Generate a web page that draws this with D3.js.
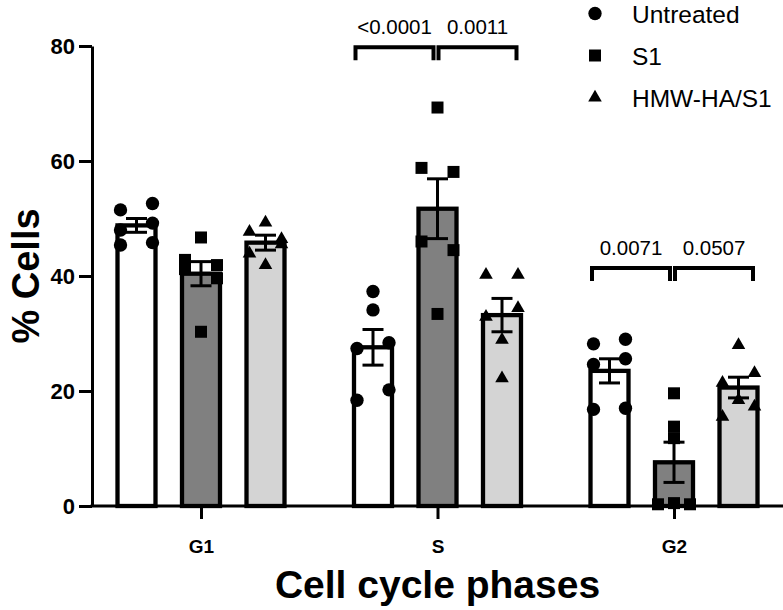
<!DOCTYPE html>
<html>
<head>
<meta charset="utf-8">
<script src="https://cdn.jsdelivr.net/npm/d3@7"></script>
<style>
  html, body { margin: 0; padding: 0; background: #ffffff; }
  svg { display: block; }
  text { font-family: "Liberation Sans", Arial, Helvetica, sans-serif; fill: #000; }
</style>
</head>
<body>
<script>
// ---------------- DATA ----------------
const phases = ["G1", "S", "G2"];
const seriesNames = ["Untreated", "S1", "HMW-HA/S1"];
const yTicks = [0, 20, 40, 60, 80];

// bar heights (mean %) per series, in phase order
const meanUntreated = [48.8, 27.6, 23.5];
const meanS1 = [40.4, 51.7, 7.6];
const meanHMW = [45.8, 33.2, 20.6];

// SEM per series, in phase order
const semUntreated = [1.2, 3.1, 2.1];
const semS1 = [2.1, 5.2, 3.5];
const semHMW = [1.3, 2.9, 1.8];

// individual replicates (6 per phase)
const ptsUntreatedG1 = [45.4, 45.8, 48.0, 49.2, 51.5, 52.6];
const ptsUntreatedS = [18.4, 20.2, 27.4, 28.4, 34.1, 37.3];
const ptsUntreatedG2 = [16.8, 17.0, 24.6, 25.6, 28.2, 29.0];
const ptsS1G1 = [30.3, 42.8, 41.9, 41.2, 39.6, 46.7];
const ptsS1S = [46.0, 44.5, 58.8, 58.1, 33.4, 69.3];
const ptsS1G2 = [0.3, 0.5, 0.3, 11.8, 13.8, 19.6];
const ptsHMWG1 = [47.7, 49.3, 46.4, 43.9, 41.9, 45.5];
const ptsHMWS = [40.2, 40.2, 32.9, 34.4, 28.9, 22.2];
const ptsHMWG2 = [28.0, 21.4, 23.1, 18.4, 15.5, 17.3];

// significance comparisons
const cmpPhase = ["S", "S", "G2", "G2"];
const cmpSide = ["left", "right", "left", "right"];
const cmpLabel = ["<0.0001", "0.0011", "0.0071", "0.0507"];
const cmpLevel = [79.8, 79.8, 41.4, 41.4];

// ---------------- BUILD ----------------
const series = [
  { name: seriesNames[0], mean: meanUntreated, sem: semUntreated, pts: [ptsUntreatedG1, ptsUntreatedS, ptsUntreatedG2], fill: "#ffffff", shape: d3.symbolCircle, size: 140 },
  { name: seriesNames[1], mean: meanS1, sem: semS1, pts: [ptsS1G1, ptsS1S, ptsS1G2], fill: "#808080", shape: d3.symbolSquare, size: 144 },
  { name: seriesNames[2], mean: meanHMW, sem: semHMW, pts: [ptsHMWG1, ptsHMWS, ptsHMWG2], fill: "#d4d4d4", shape: d3.symbolTriangle, size: 80 }
];

const W = 783, H = 610;
const svg = d3.select("body").append("svg").attr("width", W).attr("height", H);

const y = d3.scaleLinear().domain([0, 80]).range([506, 46]);
const x0 = d3.scalePoint().domain(phases).range([201, 674]);
const x1 = d3.scaleBand().domain(seriesNames).range([-96.75, 96.75]);
const cx = (phase, s) => x0(phase) + x1(s) + x1.bandwidth() / 2;

const barW = 38;

// bars
const barData = [];
series.forEach(s => phases.forEach((p, i) => barData.push({ s, p, i, mean: s.mean[i], sem: s.sem[i] })));

svg.append("g").selectAll("rect").data(barData).join("rect")
  .attr("x", d => cx(d.p, d.s.name) - barW / 2)
  .attr("y", d => y(d.mean))
  .attr("width", barW)
  .attr("height", d => y(0) - y(d.mean))
  .attr("fill", d => d.s.fill)
  .attr("stroke", "#000")
  .attr("stroke-width", 4.3);

// axes
const yAxis = d3.axisLeft(y).tickValues(yTicks).tickSize(13).tickSizeOuter(0).tickPadding(4);
const gy = svg.append("g").attr("transform", "translate(92,0)").call(yAxis);
gy.select(".domain").attr("stroke-width", 3);
gy.selectAll(".tick line").attr("stroke-width", 3);
gy.selectAll(".tick text").style("font-size", "22px").style("font-weight", "bold")
  .style("font-family", "'Liberation Sans', Arial, sans-serif");

const xAxis = d3.axisBottom(x0).tickSize(13).tickSizeOuter(0).tickPadding(21);
const gx = svg.append("g").attr("transform", "translate(0,506)").call(xAxis);
gx.select(".domain").remove();
gx.selectAll(".tick line").attr("stroke-width", 3);
gx.selectAll(".tick text").style("font-size", "19px").style("font-weight", "bold")
  .style("font-family", "'Liberation Sans', Arial, sans-serif");
gx.append("line").attr("x1", 92 - 1.5).attr("x2", W).attr("y1", 0).attr("y2", 0)
  .attr("stroke", "#000").attr("stroke-width", 3);

// error bars
const capW = 21;
const eb = svg.append("g").attr("stroke", "#000").attr("stroke-width", 3);
barData.forEach(d => {
  const x = cx(d.p, d.s.name);
  const yt = y(d.mean + d.sem), yb = y(d.mean - d.sem);
  eb.append("line").attr("x1", x).attr("x2", x).attr("y1", yt).attr("y2", yb);
  eb.append("line").attr("x1", x - capW / 2).attr("x2", x + capW / 2).attr("y1", yt).attr("y2", yt);
  eb.append("line").attr("x1", x - capW / 2).attr("x2", x + capW / 2).attr("y1", yb).attr("y2", yb);
});

// point spreading (scatter-dot style): close values share a row, split sideways
function spread(vals) {
  const idx = vals.map((v, i) => i).sort((a, b) => vals[a] - vals[b] || a - b);
  const out = new Array(vals.length).fill(0);
  let i = 0;
  while (i < idx.length) {
    const start = idx[i];
    const grp = [start];
    let j = i + 1;
    while (j < idx.length && grp.length < 3 && (y(vals[start]) - y(vals[idx[j]])) <= 11) { grp.push(idx[j]); j++; }
    grp.sort((a, b) => a - b);
    const pat = grp.length === 1 ? [0] : grp.length === 2 ? [-1, 1] : [-1, 0, 1];
    grp.forEach((k, n) => out[k] = pat[n] * 16);
    i = j;
  }
  return out;
}

const pg = svg.append("g");
series.forEach(s => {
  phases.forEach((p, i) => {
    const vals = s.pts[i];
    const offs = spread(vals);
    vals.forEach((v, k) => {
      pg.append("path")
        .attr("d", d3.symbol().type(s.shape).size(s.size)())
        .attr("transform", `translate(${cx(p, s.name) + offs[k]},${y(v)})`)
        .attr("fill", "#000");
    });
  });
});

// significance brackets
const bg = svg.append("g");
cmpPhase.forEach((p, i) => {
  const c = x0(p);
  const xa = cmpSide[i] === "left" ? c - 82 : c + 1;
  const xb = cmpSide[i] === "left" ? c - 4 : c + 79;
  const yl = y(cmpLevel[i]);
  bg.append("path")
    .attr("d", `M${xa},${yl + 13}V${yl}H${xb}V${yl + 13}`)
    .attr("fill", "none").attr("stroke", "#000").attr("stroke-width", 4);
  bg.append("text")
    .attr("x", (xa + xb) / 2).attr("y", yl - 13)
    .attr("text-anchor", "middle")
    .style("font-size", "20.5px")
    .text(cmpLabel[i]);
});

// axis titles
svg.append("text")
  .attr("x", x0("S")).attr("y", 598)
  .attr("text-anchor", "middle")
  .style("font-size", "39px").style("font-weight", "bold")
  .text("Cell cycle phases");

svg.append("text")
  .attr("transform", `translate(39,${(y(0) + y(80)) / 2}) rotate(-90)`)
  .attr("text-anchor", "middle")
  .style("font-size", "38px").style("font-weight", "bold")
  .text("% Cells");

// legend
const lg = svg.append("g");
series.forEach((s, i) => {
  const yc = 13.5 + i * 42;
  lg.append("path")
    .attr("d", d3.symbol().type(s.shape).size(s.size)())
    .attr("transform", `translate(595,${yc})`)
    .attr("fill", "#000");
  lg.append("text")
    .attr("x", 632).attr("y", yc + 9)
    .style("font-size", "24.5px")
    .text(s.name);
});
</script>
</body>
</html>
